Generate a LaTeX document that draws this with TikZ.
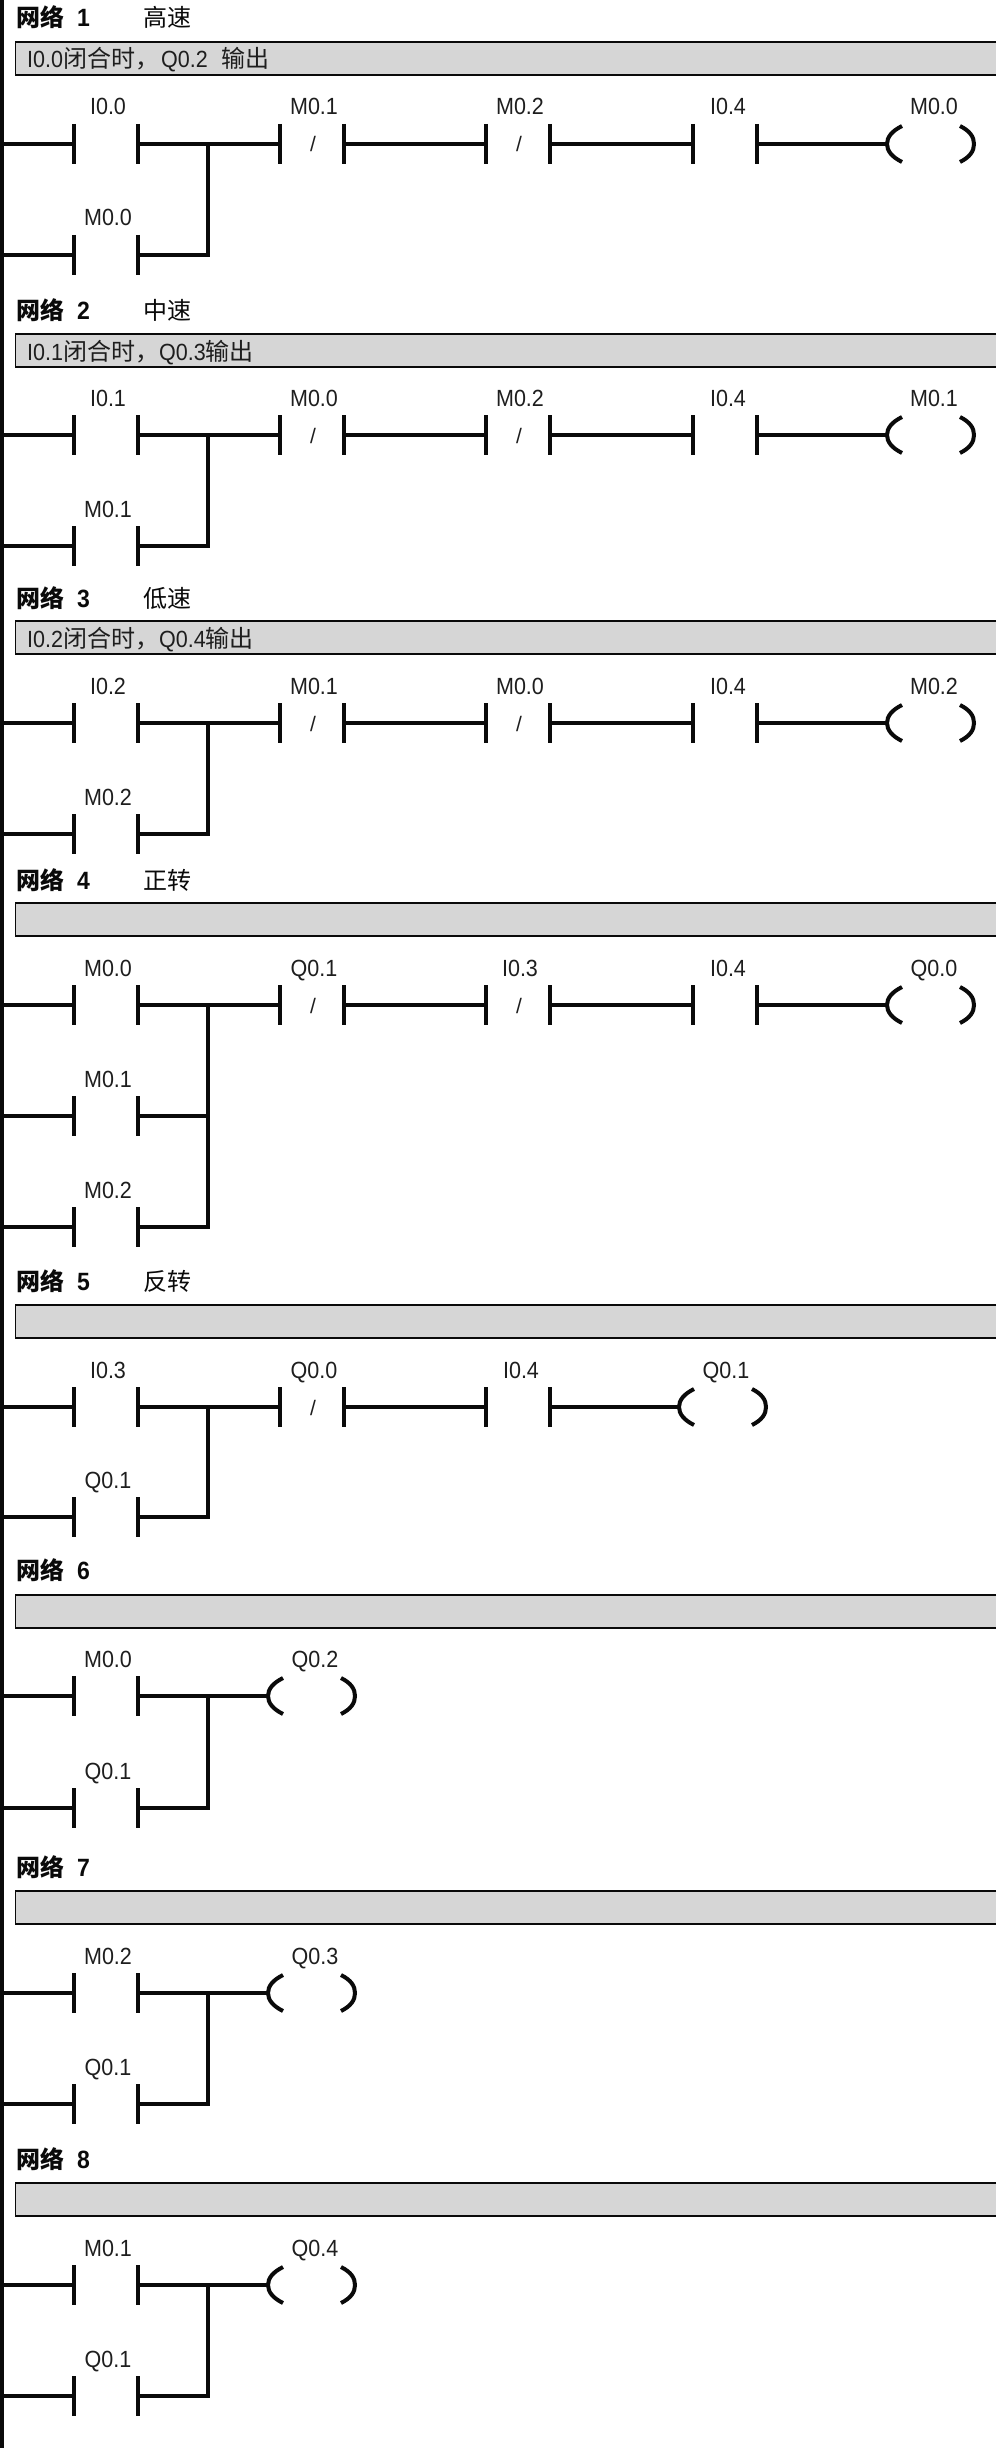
\documentclass[tikz,border=0pt]{standalone}
\usepackage{fontspec}
\setmainfont{Liberation Sans}
\newfontfamily\cjk{Noto Sans CJK SC}
\newfontfamily\slim[FakeStretch=0.92]{Liberation Sans}
\newcommand\cj[1]{{\cjk\fontsize{24}{26}\selectfont #1}}
\definecolor{bargray}{HTML}{D6D6D6}
\definecolor{ink}{HTML}{0A0A0A}
\definecolor{textink}{HTML}{1E1E1E}
\tikzset{
  wire/.style={draw=ink,line width=3.3pt,line cap=butt,line join=miter},
  bar/.style={draw=ink,line width=3.8pt},
  coilarc/.style={draw=ink,line width=4pt},
  rail/.style={draw=ink,line width=4pt},
  addr/.style={inner sep=0pt,anchor=base,text=textink,font=\slim\fontsize{23.4}{26}\selectfont},
  slash/.style={inner sep=0pt,anchor=base,text=textink,font=\fontsize{21}{24}\selectfont},
  title/.style={inner sep=0pt,anchor=base west,text=ink,font=\fontsize{24}{26}\selectfont},
  note/.style={inner sep=0pt,anchor=base west,text=textink,font=\slim\fontsize{23.4}{26}\selectfont},
}
% contact: name, left x, rung y, label, label dx
\newcommand\Contact[5]{%
  \coordinate (#1-l) at (#2,#3);
  \coordinate (#1-r) at (#2+64,#3);
  \draw[bar] (#2,#3-20) -- (#2,#3+20);
  \draw[bar] (#2+64,#3-20) -- (#2+64,#3+20);
  \node[addr] (#1-t) at (#2+33+#5,#3-29) {#4};
}
\newcommand\NContact[5]{%
  \Contact{#1}{#2}{#3}{#4}{#5}
  \node[slash] (#1-s) at (#2+33,#3+8) {/};
}
% coil: name, left x, rung y, label
\newcommand\Coil[4]{%
  \coordinate (#1-l) at (#2,#3);
  \draw[coilarc] (#2+16,#3-18) .. controls (#2+6,#3-13) and (#2+1,#3-7) .. (#2+1,#3)
     .. controls (#2+1,#3+7) and (#2+6,#3+13) .. (#2+16,#3+18);
  \draw[coilarc] (#2+74,#3-18) .. controls (#2+84,#3-13) and (#2+88,#3-7) .. (#2+88,#3)
     .. controls (#2+88,#3+7) and (#2+84,#3+13) .. (#2+74,#3+18);
  \node[addr] (#1-t) at (#2+48,#3-29) {#4};
}
% header: name, title y, number, title text, box top, comment
\newcommand\Head[6]{%
  \node[title] (#1-h) at (16,#2+9) {\cjk\bfseries 网络};
  \node[title,font=\slim\fontsize{25}{27}\selectfont\bfseries] (#1-n) at (77,#2+9) {#3};
  \node[title] (#1-c) at (143,#2+9) {\cjk #4};
  \fill[bargray] (15,#5) rectangle (996,#5+33);
  \draw[draw=ink,line width=1.8pt] (996,#5) -- (15.5,#5) -- (15.5,#5+33) -- (996,#5+33);
  \node[note] (#1-m) at (27,#5+26) {#6};
}
\newcommand\Hot[2]{\coordinate (#1) at (2,#2);}
\begin{document}
\begin{tikzpicture}[x=1pt,y=-1pt]
\useasboundingbox (0,0) rectangle (996,2448);
\fill[white] (0,0) rectangle (996,2448);
\coordinate (railtop) at (2,0);
\coordinate (railbot) at (2,2448);
\draw[rail] (railtop) -- (railbot);

% Network 1
\Head{a}{18}{1}{高速}{42}{I0.0\cj{闭合时，}\hspace{2pt}Q0.2\hspace{14pt}\cj{输出}}
\Hot{a1}{144}\Hot{a2}{255}\coordinate (aj) at (208,144);
\Contact{ac1}{74}{144}{I0.0}{1}
\Contact{ac2}{74}{255}{M0.0}{1}
\NContact{ac3}{280}{144}{M0.1}{1}
\NContact{ac4}{486}{144}{M0.2}{1}
\Contact{ac5}{693}{144}{I0.4}{2}
\Coil{acl}{886}{144}{M0.0}
\draw[wire] (a1) -- (ac1-l);
\draw[wire] (a2) -- (ac2-l);
\draw[wire] (ac1-r) -- (aj) -- (ac3-l);
\draw[wire] (ac2-r) -| (aj);
\draw[wire] (ac3-r) -- (ac4-l);
\draw[wire] (ac4-r) -- (ac5-l);
\draw[wire] (ac5-r) -- (acl-l);

% Network 2
\Head{b}{310}{2}{中速}{334}{I0.1\cj{闭合时，}Q0.3\cj{输出}}
\Hot{b1}{435}\Hot{b2}{546}\coordinate (bj) at (208,435);
\Contact{bc1}{74}{435}{I0.1}{1}
\Contact{bc2}{74}{546}{M0.1}{1}
\NContact{bc3}{280}{435}{M0.0}{1}
\NContact{bc4}{486}{435}{M0.2}{1}
\Contact{bc5}{693}{435}{I0.4}{2}
\Coil{bcl}{886}{435}{M0.1}
\draw[wire] (b1) -- (bc1-l);
\draw[wire] (b2) -- (bc2-l);
\draw[wire] (bc1-r) -- (bj) -- (bc3-l);
\draw[wire] (bc2-r) -| (bj);
\draw[wire] (bc3-r) -- (bc4-l);
\draw[wire] (bc4-r) -- (bc5-l);
\draw[wire] (bc5-r) -- (bcl-l);

% Network 3
\Head{c}{598}{3}{低速}{621}{I0.2\cj{闭合时，}Q0.4\cj{输出}}
\Hot{c1}{723}\Hot{c2}{834}\coordinate (cj) at (208,723);
\Contact{cc1}{74}{723}{I0.2}{1}
\Contact{cc2}{74}{834}{M0.2}{1}
\NContact{cc3}{280}{723}{M0.1}{1}
\NContact{cc4}{486}{723}{M0.0}{1}
\Contact{cc5}{693}{723}{I0.4}{2}
\Coil{ccl}{886}{723}{M0.2}
\draw[wire] (c1) -- (cc1-l);
\draw[wire] (c2) -- (cc2-l);
\draw[wire] (cc1-r) -- (cj) -- (cc3-l);
\draw[wire] (cc2-r) -| (cj);
\draw[wire] (cc3-r) -- (cc4-l);
\draw[wire] (cc4-r) -- (cc5-l);
\draw[wire] (cc5-r) -- (ccl-l);

% Network 4
\Head{d}{880}{4}{正转}{903}{}
\Hot{d1}{1005}\Hot{d2}{1116}\Hot{d3}{1227}\coordinate (dj) at (208,1005);
\coordinate (dk) at (208,1116);
\Contact{dc1}{74}{1005}{M0.0}{1}
\Contact{dc2}{74}{1116}{M0.1}{1}
\Contact{dc6}{74}{1227}{M0.2}{1}
\NContact{dc3}{280}{1005}{Q0.1}{1}
\NContact{dc4}{486}{1005}{I0.3}{1}
\Contact{dc5}{693}{1005}{I0.4}{2}
\Coil{dcl}{886}{1005}{Q0.0}
\draw[wire] (d1) -- (dc1-l);
\draw[wire] (d2) -- (dc2-l);
\draw[wire] (d3) -- (dc6-l);
\draw[wire] (dc1-r) -- (dj) -- (dc3-l);
\draw[wire] (dc2-r) -- (dk);
\draw[wire] (dc6-r) -| (dj);
\draw[wire] (dc3-r) -- (dc4-l);
\draw[wire] (dc4-r) -- (dc5-l);
\draw[wire] (dc5-r) -- (dcl-l);

% Network 5
\Head{e}{1281}{5}{反转}{1305}{}
\Hot{e1}{1407}\Hot{e2}{1517}\coordinate (ej) at (208,1407);
\Contact{ec1}{74}{1407}{I0.3}{1}
\Contact{ec2}{74}{1517}{Q0.1}{1}
\NContact{ec3}{280}{1407}{Q0.0}{1}
\Contact{ec4}{486}{1407}{I0.4}{2}
\Coil{ecl}{678}{1407}{Q0.1}
\draw[wire] (e1) -- (ec1-l);
\draw[wire] (e2) -- (ec2-l);
\draw[wire] (ec1-r) -- (ej) -- (ec3-l);
\draw[wire] (ec2-r) -| (ej);
\draw[wire] (ec3-r) -- (ec4-l);
\draw[wire] (ec4-r) -- (ecl-l);

% Network 6
\Head{f}{1570}{6}{}{1595}{}
\Hot{f1}{1696}\Hot{f2}{1808}\coordinate (fj) at (208,1696);
\Contact{fc1}{74}{1696}{M0.0}{1}
\Contact{fc2}{74}{1808}{Q0.1}{1}
\Coil{fcl}{267}{1696}{Q0.2}
\draw[wire] (f1) -- (fc1-l);
\draw[wire] (f2) -- (fc2-l);
\draw[wire] (fc1-r) -- (fj) -- (fcl-l);
\draw[wire] (fc2-r) -| (fj);

% Network 7
\Head{g}{1867}{7}{}{1891}{}
\Hot{g1}{1993}\Hot{g2}{2104}\coordinate (gj) at (208,1993);
\Contact{gc1}{74}{1993}{M0.2}{1}
\Contact{gc2}{74}{2104}{Q0.1}{1}
\Coil{gcl}{267}{1993}{Q0.3}
\draw[wire] (g1) -- (gc1-l);
\draw[wire] (g2) -- (gc2-l);
\draw[wire] (gc1-r) -- (gj) -- (gcl-l);
\draw[wire] (gc2-r) -| (gj);

% Network 8
\Head{h}{2159}{8}{}{2183}{}
\Hot{h1}{2285}\Hot{h2}{2396}\coordinate (hj) at (208,2285);
\Contact{hc1}{74}{2285}{M0.1}{1}
\Contact{hc2}{74}{2396}{Q0.1}{1}
\Coil{hcl}{267}{2285}{Q0.4}
\draw[wire] (h1) -- (hc1-l);
\draw[wire] (h2) -- (hc2-l);
\draw[wire] (hc1-r) -- (hj) -- (hcl-l);
\draw[wire] (hc2-r) -| (hj);
\end{tikzpicture}
\end{document}
